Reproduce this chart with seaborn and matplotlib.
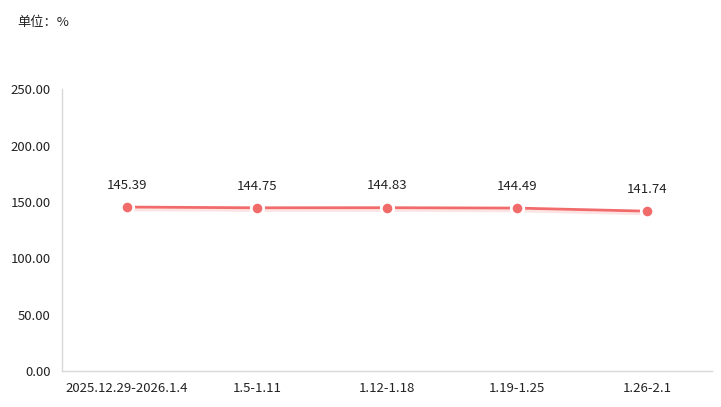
import matplotlib
matplotlib.use('Agg')
import matplotlib.pyplot as plt
import matplotlib.patheffects as pe
import seaborn as sns
import pandas as pd

weeks = ['2025.12.29-2026.1.4', '1.5-1.11', '1.12-1.18', '1.19-1.25', '1.26-2.1']
values = [145.39, 144.75, 144.83, 144.49, 141.74]
yticks = [0, 50, 100, 150, 200, 250]

df = pd.DataFrame({'week': weeks, 'value': values})

sns.set_style('white')
plt.rcParams['font.family'] = ['Noto Sans CJK SC', 'DejaVu Sans']

fig = plt.figure(figsize=(7.21, 4.07), dpi=100)
ax = fig.add_axes([0.086, 0.0885, 0.9015, 0.6925])

line_color = '#f26b6b'
sns.lineplot(data=df, x='week', y='value', ax=ax, color=line_color, linewidth=2,
             sort=False, zorder=2,
             path_effects=[pe.SimpleLineShadow(offset=(0, -2), shadow_color='#f26b6b', alpha=0.18),
                           pe.Normal()])
sns.scatterplot(data=df, x='week', y='value', ax=ax, color=line_color, s=80,
                edgecolor='white', linewidth=2, zorder=3, legend=False)

for i, v in enumerate(values):
    ax.annotate(f'{v:.2f}', (i, v), xytext=(0, 11), textcoords='offset points',
                ha='center', va='bottom', fontsize=9.5, color='#222222')

ax.set_xlim(-0.5, len(weeks) - 0.5)
ax.set_ylim(0, 250)
ax.set_yticks(yticks)
ax.set_yticklabels([f'{t:.2f}' for t in yticks])
ax.set_xlabel('')
ax.set_ylabel('')
ax.tick_params(axis='both', length=0, labelsize=9.5, colors='#222222', pad=8)

for side in ['top', 'right']:
    ax.spines[side].set_visible(False)
for side in ['left', 'bottom']:
    ax.spines[side].set_color('#d9d9d9')
    ax.spines[side].set_linewidth(1)

fig.text(0.024, 0.945, '单位：%', fontsize=9.5, color='#222222', ha='left', va='center')

fig.savefig('out.png', dpi=100)
